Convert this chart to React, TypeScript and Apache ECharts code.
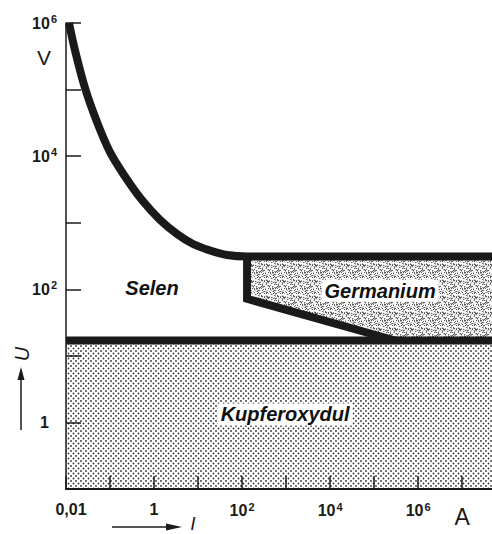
import React, { useEffect, useRef } from 'react';
import * as echarts from 'echarts';

// ---- data (current I in A, voltage U in V) ----
const X_MIN = 0.01;
const X_MAX = 5.3e7;
const Y_MIN = 0.1;
const Y_MAX = 1e6;

const selenCurve: [number, number][] = [
  [0.0117, 1e6],
  [0.016, 3.9e5],
  [0.027, 1.06e5],
  [0.0506, 3.26e4],
  [0.1, 1.15e4],
  [0.231, 4700],
  [0.533, 2190],
  [1.37, 1100],
  [3.33, 676],
  [7.7, 479],
  [18.7, 383],
  [45.6, 327],
  [130, 310],
  [X_MAX, 310],
];

const germaniumEdge: [number, number][] = [
  [130, 310],
  [130, 72],
  [3e5, 17],
];

const germaniumArea: [number, number][] = [
  [130, 310],
  [X_MAX, 310],
  [X_MAX, 17],
  [3e5, 17],
  [130, 72],
];

const kupferLine: [number, number][] = [
  [X_MIN, 17],
  [X_MAX, 17],
];

const kupferArea: [number, number][] = [
  [X_MIN, 17],
  [X_MAX, 17],
  [X_MAX, Y_MIN],
  [X_MIN, Y_MIN],
];

const regionNames = ['Selen', 'Germanium', 'Kupferoxydul'];
const regionAnchors: [number, number][] = [
  [0.9, 106],
  [1.37e5, 95],
  [950, 1.32],
];

const xLabelExps = [-2, 0, 2, 4, 6, 7];
const xLabelTexts = ['{first|0,01}', '1', '10{sup|2}', '10{sup|4}', '10{sup|6}', '{unit|A}'];
const yLabelExps = [0, 2, 4, 6];
const yLabelTexts = ['{one|1}', '10{sup|2}', '10{sup|4}', '10{sup|6}'];

const INK = '#1a1a1a';
const FONT = 'Liberation Sans, Arial, sans-serif';

function dotPattern(): HTMLCanvasElement {
  const c = document.createElement('canvas');
  c.width = 5;
  c.height = 5;
  const ctx = c.getContext('2d')!;
  ctx.fillStyle = '#ffffff';
  ctx.fillRect(0, 0, 5, 5);
  ctx.fillStyle = '#333333';
  const pts = [
    [1, 1],
    [3.5, 3.5],
  ];
  pts.forEach(([x, y]) => {
    ctx.beginPath();
    ctx.arc(x, y, 0.9, 0, Math.PI * 2);
    ctx.fill();
  });
  return c;
}

function grainPattern(): HTMLCanvasElement {
  const n = 16;
  const c = document.createElement('canvas');
  c.width = n;
  c.height = n;
  const ctx = c.getContext('2d')!;
  const img = ctx.createImageData(n, n);
  for (let y = 0; y < n; y++) {
    for (let x = 0; x < n; x++) {
      const h = ((x * 73856093) ^ (y * 19349663) ^ ((x + 3) * (y + 7) * 83492791)) >>> 0;
      const v = h % 100;
      const g = v < 20 ? 90 : v < 38 ? 175 : 248;
      const i = (y * n + x) * 4;
      img.data[i] = g;
      img.data[i + 1] = g;
      img.data[i + 2] = g;
      img.data[i + 3] = 255;
    }
  }
  ctx.putImageData(img, 0, 0);
  return c;
}

function fmt(exps: number[], texts: string[]) {
  return (v: number) => {
    const l = Math.log10(v);
    const e = Math.round(l);
    if (Math.abs(l - e) > 0.01) return '';
    const i = exps.indexOf(e);
    return i >= 0 ? texts[i] : '';
  };
}

export default function App() {
  const ref = useRef<HTMLDivElement>(null);
  useEffect(() => {
    if (!ref.current) return;
    const chart = echarts.init(ref.current, undefined, { renderer: 'svg' });
    const dots = { image: dotPattern(), repeat: 'repeat' };
    const grain = { image: grainPattern(), repeat: 'repeat' };

    const polySeries = (pts: [number, number][], fill: any, z: number) => ({
      type: 'custom',
      coordinateSystem: 'cartesian2d',
      silent: true,
      z,
      data: [[1, 1]],
      renderItem: (_p: any, api: any) => ({
        type: 'polygon',
        shape: { points: pts.map((p) => api.coord(p)) },
        style: { fill, stroke: 'none' },
      }),
    });

    const lineSeries = (pts: [number, number][], smooth: boolean) => ({
      type: 'line',
      data: pts,
      smooth: smooth ? 0.35 : false,
      symbol: 'none',
      silent: true,
      z: 4,
      lineStyle: { color: INK, width: 8, join: 'miter', cap: 'butt' },
    });

    const sup = { fontSize: 11, fontWeight: 'bold', fontFamily: FONT, color: INK, verticalAlign: 'top', padding: [0, 0, 8, 1] };

    chart.setOption({
      animation: false,
      backgroundColor: '#ffffff',
      grid: { left: 66, top: 23, width: 428, height: 466, containLabel: false, outerBoundsMode: 'none' },
      xAxis: {
        type: 'log',
        logBase: 10,
        min: X_MIN,
        max: X_MAX,
        splitNumber: 12,
        z: 6,
        axisLine: { show: true, lineStyle: { color: INK, width: 2 } },
        axisTick: { show: true, inside: true, length: 13, lineStyle: { color: INK, width: 1.5 } },
        minorTick: { show: false },
        splitLine: { show: false },
        axisLabel: {
          margin: 12,
          color: INK,
          fontFamily: FONT,
          fontWeight: 'bold',
          fontSize: 16,
          showMinLabel: true,
          showMaxLabel: true,
          formatter: fmt(xLabelExps, xLabelTexts),
          rich: {
            first: { fontSize: 16, fontWeight: 'bold', fontFamily: FONT, color: INK, padding: [0, 0, 0, 10] },
            sup,
            unit: { fontSize: 23, fontWeight: 'normal', fontFamily: FONT, color: INK, padding: [4, 0, 0, 0] },
          },
        },
      },
      yAxis: {
        type: 'log',
        logBase: 10,
        min: Y_MIN,
        max: Y_MAX,
        splitNumber: 12,
        z: 6,
        axisLine: { show: true, lineStyle: { color: INK, width: 1.5 } },
        axisTick: { show: true, inside: true, length: 15, lineStyle: { color: INK, width: 1.5 } },
        minorTick: { show: false },
        splitLine: { show: false },
        axisLabel: {
          margin: 9,
          color: INK,
          fontFamily: FONT,
          fontWeight: 'bold',
          fontSize: 16,
          showMinLabel: true,
          showMaxLabel: true,
          formatter: fmt(yLabelExps, yLabelTexts),
          rich: {
            one: { fontSize: 16, fontWeight: 'bold', fontFamily: FONT, color: INK, padding: [0, 8, 0, 0] },
            sup,
          },
        },
      },
      series: [
        polySeries(kupferArea, dots, 1),
        polySeries(germaniumArea, grain, 1),
        lineSeries(kupferLine, false),
        lineSeries(germaniumEdge, false),
        lineSeries(selenCurve, true),
        {
          type: 'custom',
          coordinateSystem: 'cartesian2d',
          silent: true,
          z: 8,
          data: regionAnchors,
          renderItem: (params: any, api: any) => {
            const p = api.coord([api.value(0), api.value(1)]);
            return {
              type: 'text',
              x: p[0],
              y: p[1],
              style: {
                text: regionNames[params.dataIndex],
                font: `italic bold 20px ${FONT}`,
                fill: '#111111',
                align: 'center',
                verticalAlign: 'middle',
                backgroundColor: '#ffffff',
                padding: [1, 3],
              },
            };
          },
        },
      ],
      graphic: [
        { type: 'text', x: 44, y: 57, style: { text: 'V', font: `normal 21px ${FONT}`, fill: INK, align: 'center', verticalAlign: 'middle' } },
        { type: 'text', x: 22, y: 354, rotation: Math.PI / 2, style: { text: 'U', font: `italic normal 20px ${FONT}`, fill: INK, align: 'center', verticalAlign: 'middle' } },
        { type: 'line', shape: { x1: 21, y1: 430, x2: 21, y2: 376 }, style: { stroke: INK, lineWidth: 1.5 } },
        { type: 'polygon', shape: { points: [[17.5, 380], [24.5, 380], [21, 367]] }, style: { fill: INK } },
        { type: 'line', shape: { x1: 112, y1: 527, x2: 170, y2: 527 }, style: { stroke: INK, lineWidth: 1.5 } },
        { type: 'polygon', shape: { points: [[166, 523.5], [166, 530.5], [182, 527]] }, style: { fill: INK } },
        { type: 'text', x: 193, y: 523, style: { text: 'I', font: `italic normal 19px ${FONT}`, fill: INK, align: 'center', verticalAlign: 'middle' } },
      ],
    });
    return () => chart.dispose();
  }, []);
  return <div ref={ref} style={{ width: 492, height: 534, position: 'absolute', left: 0, top: 0 }} />;
}
